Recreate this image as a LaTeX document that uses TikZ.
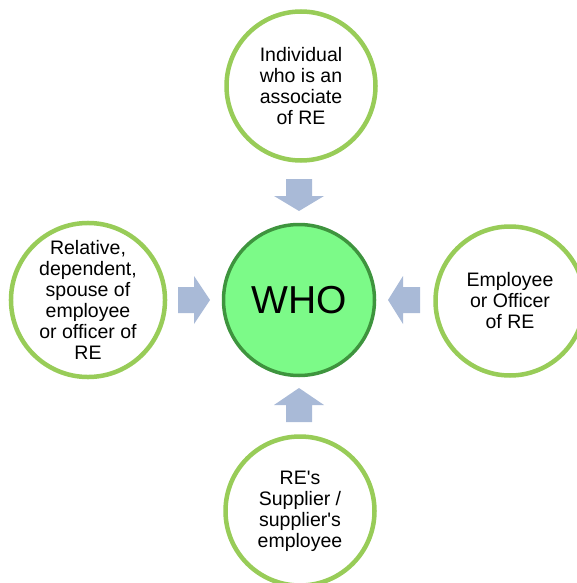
\documentclass[tikz,border=0pt]{standalone}
\usepackage{fontspec}
\setmainfont{Liberation Sans}
\definecolor{ringgreen}{RGB}{152,204,88}
\definecolor{whofill}{RGB}{124,250,136}
\definecolor{whoedge}{RGB}{62,148,62}
\definecolor{arrowblue}{RGB}{169,186,215}
\tikzset{
  outercircle/.style={circle, draw=ringgreen, line width=4.5pt, fill=white,
    minimum size=149pt, inner sep=0pt, align=center,
    font=\fontsize{19.5}{21}\selectfont},
  whocircle/.style={circle, draw=whoedge, line width=3.5pt, fill=whofill,
    minimum size=151pt, inner sep=0pt, font=\fontsize{39}{40}\selectfont},
  blockarrow/.style={fill=arrowblue, draw=none}
}
\begin{document}
\begin{tikzpicture}[x=1pt,y=-1pt]
\useasboundingbox (0,0) rectangle (577,583);
\node[whocircle] (who) at (299,300) {WHO};
\node[outercircle] (top) at (301,86) {Individual\\who is an\\associate\\of RE};
\node[outercircle] (left) at (88,300) {Relative,\\dependent,\\spouse of\\employee\\or officer of\\RE};
\node[outercircle] (right) at (510,301) {Employee\\or Officer\\of RE};
\node[outercircle] (bottom) at (300,511) {RE\textquotesingle s\\Supplier /\\supplier\textquotesingle s\\employee};
% top arrow pointing down
\coordinate (ta) at (299,211);
\fill[blockarrow] (ta) -- ++(-25,-15) -- ++(12,0) -- ++(0,-17) -- ++(26,0) -- ++(0,17) -- ++(12,0) -- cycle;
% bottom arrow pointing up
\coordinate (ba) at (299,388);
\fill[blockarrow] (ba) -- ++(-25,17) -- ++(12,0) -- ++(0,17) -- ++(26,0) -- ++(0,-17) -- ++(12,0) -- cycle;
% left arrow pointing right
\coordinate (la) at (210,300);
\fill[blockarrow] (la) -- ++(-16,-24) -- ++(0,11) -- ++(-16,0) -- ++(0,26) -- ++(16,0) -- ++(0,11) -- cycle;
% right arrow pointing left
\coordinate (ra) at (388,300);
\fill[blockarrow] (ra) -- ++(15,-24) -- ++(0,11) -- ++(17,0) -- ++(0,26) -- ++(-17,0) -- ++(0,11) -- cycle;
\end{tikzpicture}
\end{document}
